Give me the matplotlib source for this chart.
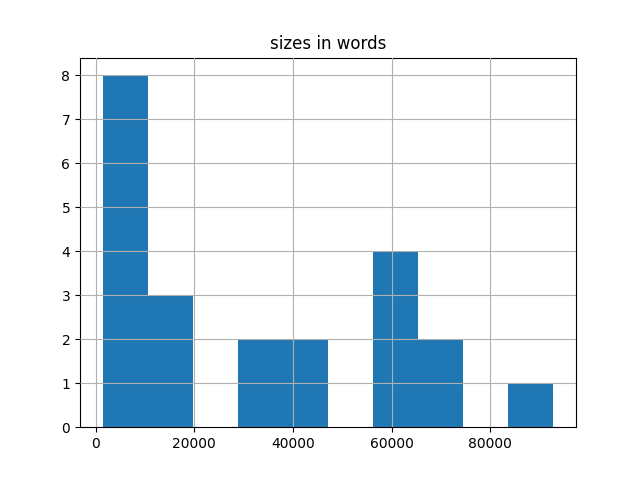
import numpy as np
import matplotlib
matplotlib.use("Agg")
import matplotlib.pyplot as plt

# histogram: range of sizes and count per bin
size_min = 1400
size_max = 92800
bin_counts = [8, 3, 0, 2, 2, 0, 4, 2, 0, 1]

edges = np.linspace(size_min, size_max, len(bin_counts) + 1)
centers = (edges[:-1] + edges[1:]) / 2

fig, ax = plt.subplots(figsize=(6.4, 4.8), dpi=100)
ax.hist(centers, bins=edges, weights=bin_counts, color="#1f77b4")
ax.grid(True)
ax.set_axisbelow(False)
ax.set_title("sizes in words")

plt.savefig("out.png")
